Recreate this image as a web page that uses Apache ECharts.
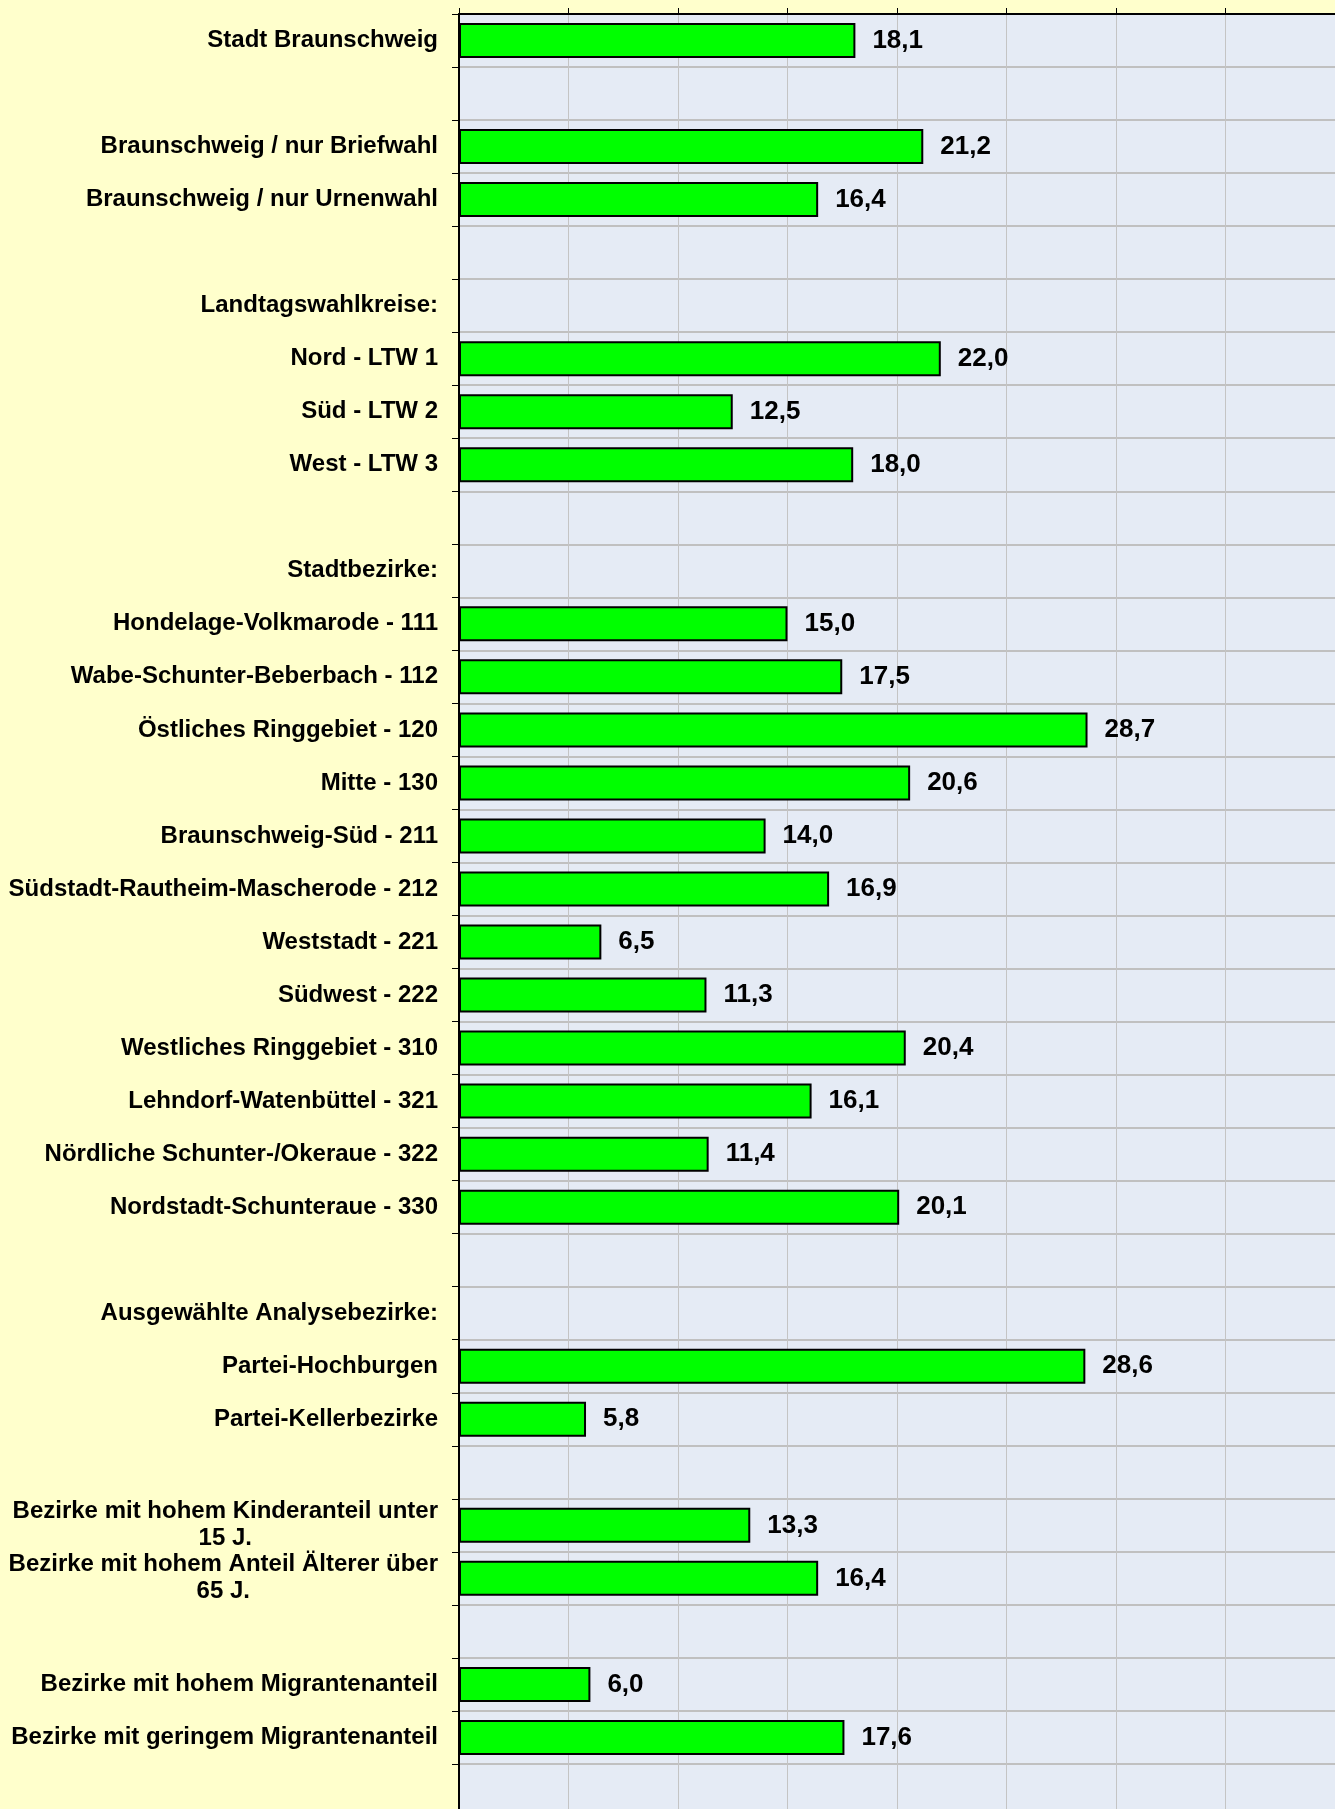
<!DOCTYPE html>
<html>
<head>
<meta charset="utf-8">
<script src="https://cdn.jsdelivr.net/npm/echarts@6/dist/echarts.min.js"></script>
<style>
    html, body { margin: 0; padding: 0; background: #ffffcc; }
    #chart { width: 1335px; height: 1809px; }
</style>
</head>
<body>
<div id="chart"></div>
<script>
// Kategorien (von oben nach unten), leere Zeilen = Abstand, ":"-Zeilen = Überschrift ohne Balken
var categories = [
    'Stadt Braunschweig',
    '',
    'Braunschweig / nur Briefwahl',
    'Braunschweig / nur Urnenwahl',
    '',
    'Landtagswahlkreise:',
    'Nord - LTW 1',
    'Süd - LTW 2',
    'West - LTW 3',
    '',
    'Stadtbezirke:',
    'Hondelage-Volkmarode - 111',
    'Wabe-Schunter-Beberbach - 112',
    'Östliches Ringgebiet - 120',
    'Mitte - 130',
    'Braunschweig-Süd - 211',
    'Südstadt-Rautheim-Mascherode - 212',
    'Weststadt - 221',
    'Südwest - 222',
    'Westliches Ringgebiet - 310',
    'Lehndorf-Watenbüttel - 321',
    'Nördliche Schunter-/Okeraue - 322',
    'Nordstadt-Schunteraue - 330',
    '',
    'Ausgewählte Analysebezirke:',
    'Partei-Hochburgen',
    'Partei-Kellerbezirke',
    '',
    'Bezirke mit hohem Kinderanteil unter\n15 J.',
    'Bezirke mit hohem Anteil Älterer über\n65 J.',
    '',
    'Bezirke mit hohem Migrantenanteil',
    'Bezirke mit geringem Migrantenanteil',
    ''
];

var values = [
    18.1,
    null,
    21.2,
    16.4,
    null,
    null,
    22.0,
    12.5,
    18.0,
    null,
    null,
    15.0,
    17.5,
    28.7,
    20.6,
    14.0,
    16.9,
    6.5,
    11.3,
    20.4,
    16.1,
    11.4,
    20.1,
    null,
    null,
    28.6,
    5.8,
    null,
    13.3,
    16.4,
    null,
    6.0,
    17.6,
    null
];

var xMin = 0;
var xMax = 40;
var xStep = 5;

var FONT = '"Liberation Sans", Arial, sans-serif';

var myChart = echarts.init(document.getElementById('chart'));

var option = {
    backgroundColor: '#ffffcc',
    animation: false,
    grid: {
        left: 459,
        right: 0,
        top: 14,
        height: 1803, // letzte (leere) Zeile läuft unten aus dem Bild
        outerBoundsMode: 'none',
        show: true,
        backgroundColor: '#e5ebf5',
        borderWidth: 0
    },
    xAxis: {
        type: 'value',
        position: 'top',
        min: xMin,
        max: xMax,
        interval: xStep,
        axisLine: { show: true, lineStyle: { color: '#000', width: 2 } },
        axisTick: { show: true, length: 6, lineStyle: { color: '#000', width: 1 } },
        axisLabel: { show: false },
        splitLine: { show: true, lineStyle: { color: '#c4c4c4', width: 1 } }
    },
    yAxis: {
        type: 'category',
        inverse: true,
        data: categories,
        axisLine: { show: true, lineStyle: { color: '#000', width: 2 } },
        axisTick: { show: true, length: 7, lineStyle: { color: '#000', width: 1 } },
        splitLine: { show: true, lineStyle: { color: '#c0c0c0', width: 2 } },
        axisLabel: {
            interval: 0,
            margin: 21,
            color: '#000',
            fontFamily: FONT,
            fontSize: 24,
            fontWeight: 'bold',
            lineHeight: 27,
            formatter: function (val) {
                // mehrzeilige Labels zentriert wie im Original
                if (val.indexOf('\n') < 0) return val;
                return val.split('\n').map(function (l) { return '{c|' + l + '}'; }).join('\n');
            },
            rich: {
                c: {
                    align: 'center',
                    color: '#000',
                    fontFamily: FONT,
                    fontSize: 24,
                    fontWeight: 'bold',
                    lineHeight: 27
                }
            }
        }
    },
    series: [{
        type: 'bar',
        data: values,
        barWidth: 35,
        itemStyle: {
            color: '#00ff00',
            borderColor: '#000',
            borderWidth: 2
        },
        label: {
            show: true,
            position: 'right',
            distance: 17,
            color: '#000',
            fontFamily: FONT,
            fontSize: 26,
            fontWeight: 'bold',
            formatter: function (p) {
                return p.value.toFixed(1).replace('.', ',');
            }
        }
    }]
};

myChart.setOption(option);
</script>
</body>
</html>
